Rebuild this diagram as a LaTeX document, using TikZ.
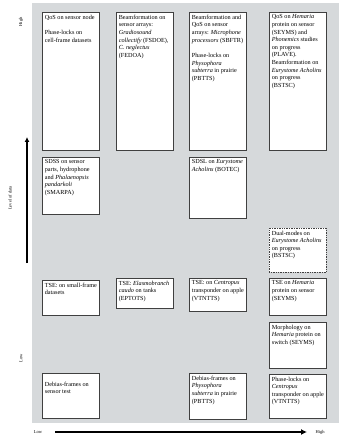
\documentclass[tikz,border=0pt]{standalone}
\usepackage{fontspec}
\setmainfont{Liberation Serif}
\usepackage{tikz}
\usetikzlibrary{%
	calc,%
	arrows.meta,%
	positioning
}
\definecolor{panelgray}{rgb}{0.84, 0.85, 0.86}
\definecolor{edgegray}{rgb}{0.25, 0.25, 0.25}

% Text of a box, set from its top
\newcommand{\celltext}[2]{\parbox[t][#1][t]{59pt}{\raggedright\hsize=52pt #2}}

\tikzset{
	cell/.style={draw=edgegray, fill=white, line width=0.7pt, anchor=north west,
		inner sep=2.5pt, font=\fontsize{6.2}{7.6}\selectfont},
	axislabel/.style={font=\fontsize{4.5}{5}\selectfont, rotate=90}
}

\begin{document}
\begin{tikzpicture}[x=1pt,y=-1pt]
			\useasboundingbox (0,0) rectangle (339,435);
			% Panel
			\fill[panelgray] (32,3) rectangle (339,423);
			% Top row
			\node[cell] (qosnode) at (42,12) {\celltext{133pt}{QoS on sensor node\\[8pt] Phase-locks on cell-frame datasets}};
			\node[cell] (beamarray) at (116,12) {\celltext{133pt}{Beamformation on sensor arrays: \textit{Gradiosound collectify} (FSDOE), \textit{C.~neglectus} (FEDOA)}};
			\node[cell] (beamqos) at (189,12) {\celltext{133pt}{Beamformation and QoS on sensor arrays: \textit{Microphone processors} (SBFTR)\\[8pt] Phase-locks on \textit{Physophora subterra} in prairie (PBTTS)}};
			\node[cell] (qoshem) at (269,12) {\celltext{133pt}{QoS on \textit{Hemaria} protein on sensor (SEYMS) and \textit{Phonemics} studies on progress (PLAVE). Beamformation on \textit{Eurystome Acholins} on progress (BSTSC)}};
			% Second row
			\node[cell] (sdss) at (42,157) {\celltext{52pt}{SDSS on sensor parts, hydrophone and \textit{Phalaenopsis pandarkoli} (SMARPA)}};
			\node[cell] (sdsl) at (189,157) {\celltext{56pt}{SDSL on \textit{Eurystome Acholins} (BOTEC)}};
			% Third row
			\node[cell, densely dotted] (dualmode) at (269,228) {\celltext{39pt}{Dual-modes on \textit{Eurystome Acholins} on progress (BSTSC)}};
			% Fourth row
			\node[cell] (tseframe) at (42,280) {\celltext{30pt}{TSE: on small-frame datasets}};
			\node[cell] (tsetank) at (116,278) {\celltext{25pt}{TSE: \textit{Elasmobranch caudo} on tanks (EPTOTS)}};
			\node[cell] (tseapple) at (189,278) {\celltext{28pt}{TSE: on \textit{Centropus} transponder on apple (VTNTTS)}};
			\node[cell] (tsehem) at (269,278) {\celltext{32pt}{TSE on \textit{Hemaria} protein on sensor (SEYMS)}};
			% Fifth row
			\node[cell] (morph) at (269,322) {\celltext{41pt}{Morphology on \textit{Hemaria} protein on switch (SEYMS)}};
			% Bottom row
			\node[cell] (debtest) at (42,373) {\celltext{40pt}{\vspace*{6pt}Debias-frames on sensor test}};
			\node[cell] (debprairie) at (189,373) {\celltext{41pt}{Debias-frames on \textit{Physophora subterra} in prairie (PBTTS)}};
			\node[cell] (phaseapple) at (269,374) {\celltext{39pt}{Phase-locks on \textit{Centropus} transponder on apple (VTNTTS)}};

			% Axes
			\coordinate (ylow) at (27,263);
			\coordinate (yhigh) at (27,137);
			\coordinate (xlow) at (55,432);
			\coordinate (xhigh) at (307,432);
			\draw[line width=1.6pt, -{Latex[length=5pt,width=5pt]}] (ylow) -- (yhigh);
			\draw[line width=2.2pt, -{Latex[length=6pt,width=6pt]}] (xlow) -- (xhigh);
			\node[axislabel] (yhightext) at (21,22) {High};
			\node[axislabel] (ylowtext) at (21,358) {Low};
			\node[axislabel] (ytitle) at (10,198) {Level of data};
			\node[font=\fontsize{4.5}{5}\selectfont] (xlowtext) at (38,432) {Low};
			\node[font=\fontsize{4.5}{5}\selectfont] (xhightext) at (320,432) {High};
		\end{tikzpicture}
\end{document}
